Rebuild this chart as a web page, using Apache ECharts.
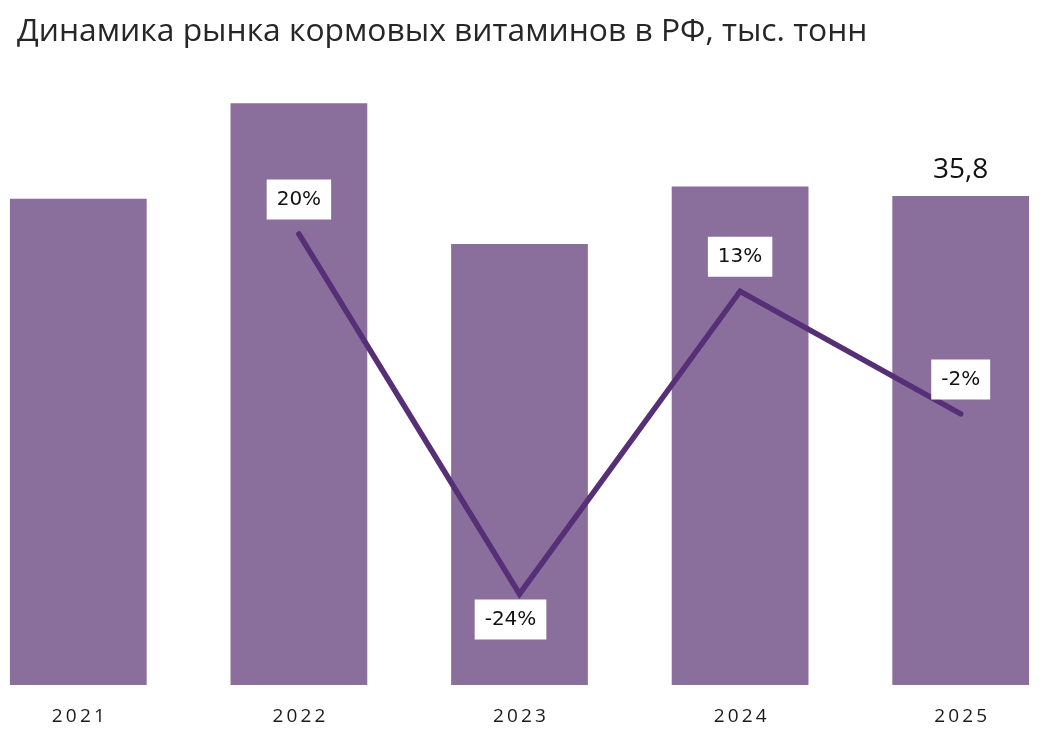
<!DOCTYPE html>
<html>
<head>
<meta charset="utf-8">
<script src="https://cdn.jsdelivr.net/npm/echarts@6/dist/echarts.min.js"></script>
<style>
  html, body { margin: 0; padding: 0; background: #fff; overflow: hidden; }
  #wrap { position: relative; width: 1053px; height: 741px; overflow: hidden; }
  #chart { position: absolute; left: -32px; top: 0; width: 1103px; height: 741px; }
</style>
</head>
<body>
<div id="wrap"><div id="chart"></div></div>
<script>
var years = ['2021', '2022', '2023', '2024', '2025'];
var volume = [35.6, 42.6, 32.3, 36.5, 35.8];        // тыс. тонн
var growth = [null, 20, -24, 13, -2];              // % к предыдущему году

(function() {
  var barColor = '#8a6f9d';
  var lineColor = '#572f77';
  var font = '"Open Sans", "Noto Sans", sans-serif';

  var chart = echarts.init(document.getElementById('chart'), null, { renderer: 'canvas' });

  var barData = volume.map(function(v, i) {
    var d = { value: v };
    if (i === volume.length - 1) {
      d.label = {
        show: true,
        position: 'top',
        distance: 12,
        formatter: function(p) { return String(p.value).replace('.', ','); },
        color: '#111',
        fontSize: 28,
        fontFamily: font
      };
    }
    return d;
  });

  var lineData = growth.map(function(v) {
    if (v === null) return '-';
    var d = { value: v };
    if (v < -10) {
      d.label = { position: 'bottom', distance: 5, offset: [-9, 0] };
    }
    return d;
  });

  chart.setOption({
    animation: false,
    title: {
      text: 'Динамика рынка кормовых витаминов в РФ, тыс. тонн',
      left: 44,
      top: 11,
      textStyle: { color: '#262626', fontSize: 31.8, fontWeight: 'normal', fontFamily: font }
    },
    grid: { left: 0, right: 0, top: 80, bottom: 56, containLabel: false },
    xAxis: {
      type: 'category',
      data: years,
      axisLine: { show: false },
      axisTick: { show: false },
      axisLabel: {
        color: '#1a1a1a',
        fontSize: 19,
        fontFamily: font,
        margin: 22,
        formatter: function(v) { return v.split('').join('\u2009'); }
      }
    },
    yAxis: [
      { type: 'value', min: 0, max: 44.3, show: false, splitLine: { show: false } },
      { type: 'value', min: -35.13, max: 38.82, show: false, splitLine: { show: false } }
    ],
    series: [
      {
        type: 'bar',
        data: barData,
        barWidth: '62%',
        itemStyle: { color: barColor },
        yAxisIndex: 0
      },
      {
        type: 'line',
        data: lineData,
        yAxisIndex: 1,
        symbol: 'circle',
        symbolSize: 1,
        showSymbol: true,
        itemStyle: { color: lineColor },
        connectNulls: false,
        lineStyle: { color: lineColor, width: 5.5, cap: 'round', join: 'miter' },
        label: {
          show: true,
          position: 'top',
          distance: 14,
          formatter: '{c}%',
          color: '#111',
          fontSize: 20,
          fontFamily: '"DejaVu Sans", Verdana, sans-serif',
          backgroundColor: '#fff',
          padding: [10, 10, 10, 10]
        }
      }
    ]
  });
  window.addEventListener('resize', function() { chart.resize(); });
})();
</script>
</body>
</html>
